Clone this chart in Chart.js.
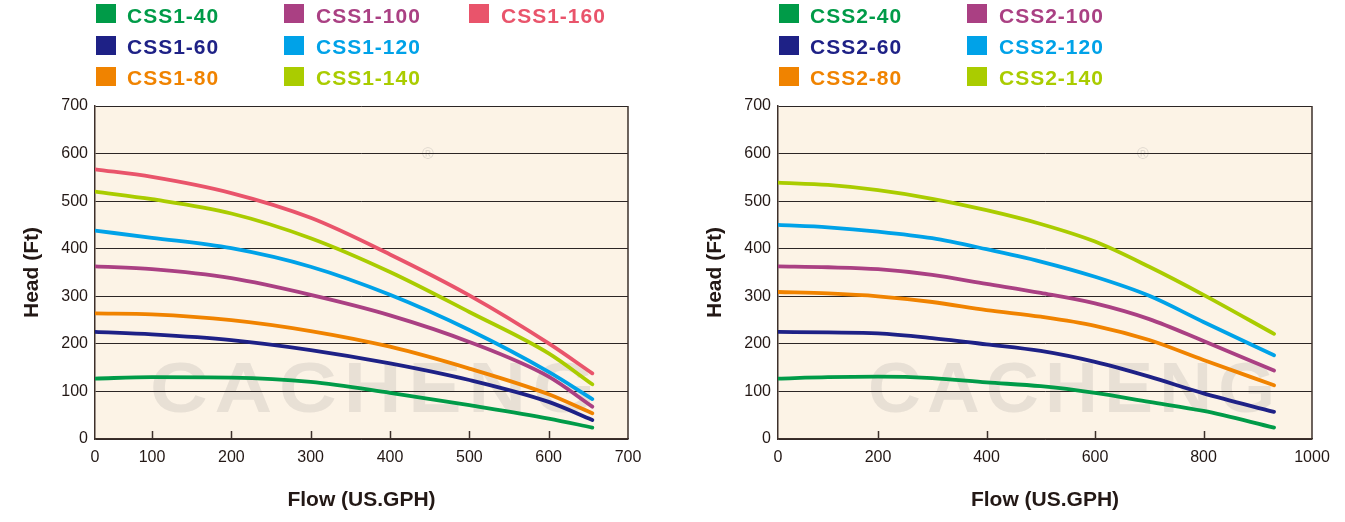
<!DOCTYPE html>
<html>
<head>
<meta charset="utf-8">
<script src="https://cdn.jsdelivr.net/npm/chart.js@4/dist/chart.umd.min.js"></script>
<style>
  html, body { margin: 0; padding: 0; background: #ffffff; }
  body { width: 1345px; height: 522px; position: relative; overflow: hidden; font-family: "Liberation Sans", Arial, sans-serif; }
  .wrap { position: absolute; top: 0; height: 522px; }
  .sw { position: absolute; width: 20px; height: 19px; }
  .lt { position: absolute; font-weight: bold; font-size: 21px; line-height: 21px; letter-spacing: 1px; white-space: nowrap; }
</style>
</head>
<body>
<div class="wrap" style="left:0;width:672px;"><canvas id="c1" width="672" height="522"></canvas></div>
<div class="wrap" style="left:672px;width:673px;"><canvas id="c2" width="673" height="522"></canvas></div>
<div id="legend"></div>
<script>
// ---------------- DATA ----------------
const flowTicks1 = [0, 100, 200, 300, 400, 500, 600, 700];
const flowTicks2 = [0, 200, 400, 600, 800, 1000];
const headTicks = [0, 100, 200, 300, 400, 500, 600, 700];

const flow1 = [0, 100, 200, 300, 400, 500, 600, 655];
const css1_40  = [127, 130, 129, 120, 97, 71, 43, 24];
const css1_60  = [225, 220, 208, 187, 159, 124, 78, 40];
const css1_80  = [264, 262, 250, 227, 194, 148, 94, 54];
const css1_100 = [363, 357, 338, 303, 260, 204, 131, 68];
const css1_120 = [438, 423, 401, 362, 303, 229, 141, 84];
const css1_140 = [520, 504, 474, 422, 351, 267, 180, 115];
const css1_160 = [567, 551, 517, 465, 388, 302, 201, 138];

const flow2 = [0, 100, 200, 300, 400, 500, 600, 700, 800, 930];
const css2_40  = [127, 130, 131, 128, 119, 111, 97, 78, 59, 24];
const css2_60  = [225, 224, 222, 212, 199, 185, 162, 131, 96, 57];
const css2_80  = [309, 306, 300, 288, 271, 257, 238, 208, 166, 113];
const css2_100 = [363, 361, 357, 345, 326, 307, 285, 252, 206, 144];
const css2_120 = [450, 445, 436, 422, 399, 373, 341, 301, 246, 176];
const css2_140 = [539, 534, 523, 505, 481, 452, 415, 362, 303, 221];

const names1 = ['CSS1-40', 'CSS1-60', 'CSS1-80', 'CSS1-100', 'CSS1-120', 'CSS1-140', 'CSS1-160'];
const names2 = ['CSS2-40', 'CSS2-60', 'CSS2-80', 'CSS2-100', 'CSS2-120', 'CSS2-140'];
const colors = ['#009B48', '#1E2186', '#F08300', '#AA4083', '#00A2E8', '#AACC00', '#E9546B'];

// ---------------- STYLE ----------------
const FONT = '"Liberation Sans", Arial, Helvetica, sans-serif';
const TEXT = '#231815';
const AXIS = '#3d302b';

// Axis with a compressed first interval (as in the printed chart)
function makeWarpScale(id, firstVal, firstFrac) {
  class WarpScale extends Chart.LinearScale {
    getPixelForValue(value) {
      const max = this.max;
      let f;
      if (value <= firstVal) f = (value / firstVal) * firstFrac;
      else f = firstFrac + (value - firstVal) / (max - firstVal) * (1 - firstFrac);
      return this.getPixelForDecimal(f);
    }
    getValueForPixel(pixel) {
      const f = this.getDecimalForPixel(pixel);
      if (f <= firstFrac) return f / firstFrac * firstVal;
      return firstVal + (f - firstFrac) / (1 - firstFrac) * (this.max - firstVal);
    }
  }
  WarpScale.id = id;
  WarpScale.defaults = Chart.LinearScale.defaults;
  Chart.register(WarpScale);
}
makeWarpScale('warp1', 100, 57 / 533);
makeWarpScale('warp2', 200, 100 / 534);

const framePlugin = {
  id: 'frame',
  beforeDraw(chart, args, opts) {
    const { ctx, chartArea: a } = chart;
    ctx.save();
    ctx.fillStyle = '#FCF3E6';
    ctx.fillRect(a.left, a.top, a.right - a.left, a.bottom - a.top);
    // watermark
    const w = a.right - a.left;
    const x0 = a.left + w * opts.wmFrom, x1 = a.left + w * opts.wmTo;
    const txt = 'CACHENG';
    ctx.fillStyle = 'rgba(190,185,180,0.33)';
    ctx.font = 'bold 70px ' + FONT;
    ctx.textBaseline = 'alphabetic';
    ctx.textAlign = 'left';
    ctx.letterSpacing = '6px';
    const natural = ctx.measureText(txt).width - 6;
    const sx = (x1 - x0) / natural;
    ctx.translate(x0, chart.scales.y.getPixelForValue(56));
    ctx.scale(sx, 1);
    ctx.fillText(txt, 0, 0);
    ctx.setTransform(1, 0, 0, 1, 0, 0);
    ctx.letterSpacing = '0px';
    ctx.fillStyle = 'rgba(190,185,180,0.5)';
    ctx.font = '16px ' + FONT;
    ctx.fillText('®', a.left + w * opts.regAt, chart.scales.y.getPixelForValue(588));
    ctx.restore();
  },
  afterDraw(chart) {
    const { ctx, chartArea: a } = chart;
    const xs = chart.scales.x;
    ctx.save();
    ctx.strokeStyle = AXIS;
    ctx.lineWidth = 1.5;
    xs.ticks.forEach((t, i) => {
      if (i === 0 || i === xs.ticks.length - 1) return;
      const px = Math.round(xs.getPixelForTick(i)) + 0.5;
      ctx.beginPath();
      ctx.moveTo(px, a.bottom);
      ctx.lineTo(px, a.bottom - 8);
      ctx.stroke();
    });
    ctx.beginPath();
    ctx.moveTo(a.right, a.top);
    ctx.lineTo(a.right, a.bottom);
    ctx.stroke();
    ctx.restore();
  }
};

function buildDatasets(flow, series, names) {
  return series.map((vals, i) => ({
    label: names[i],
    data: flow.map((f, j) => ({ x: f, y: vals[j] })),
    borderColor: colors[i],
    backgroundColor: colors[i],
    borderWidth: 3.8,
    borderCapStyle: 'round',
    borderJoinStyle: 'round',
    pointRadius: 0,
    cubicInterpolationMode: 'monotone',
    fill: false
  }));
}

function makeChart(canvasId, cfg) {
  return new Chart(document.getElementById(canvasId), {
    type: 'line',
    data: { datasets: buildDatasets(cfg.flow, cfg.series, cfg.names) },
    options: {
      responsive: false,
      animation: false,
      layout: { padding: { left: 0, right: cfg.padRight, top: 106, bottom: 0 } },
      plugins: {
        legend: { display: false },
        tooltip: { enabled: false },
        frame: cfg.wm
      },
      scales: {
        x: {
          type: cfg.xType,
          min: 0,
          max: cfg.xTicks[cfg.xTicks.length - 1],
          afterBuildTicks: (s) => { s.ticks = cfg.xTicks.map(v => ({ value: v })); },
          afterFit: (s) => { s.height = 83; },
          grid: { display: true, drawOnChartArea: false, drawTicks: false },
          border: { display: true, color: AXIS, width: 1.5 },
          ticks: { color: TEXT, font: { family: FONT, size: 16 }, padding: 9, maxRotation: 0, autoSkip: false, callback: (v) => String(v) },
          title: { display: true, text: 'Flow (US.GPH)', color: TEXT, font: { family: FONT, size: 21, weight: 'bold' }, padding: { top: 0, bottom: 9 } }
        },
        y: {
          type: 'linear',
          min: 0, max: 700,
          afterBuildTicks: (s) => { s.ticks = headTicks.map(v => ({ value: v })); },
          afterFit: (s) => { s.width = cfg.yWidth; },
          grid: { color: '#2b2524', lineWidth: 1, drawTicks: false },
          border: { display: true, color: AXIS, width: 1.5 },
          ticks: { color: TEXT, font: { family: FONT, size: 16 }, padding: 7, callback: (v) => String(v) },
          title: { display: true, text: 'Head (Ft)', color: TEXT, font: { family: FONT, size: 21, weight: 'bold' }, padding: { top: cfg.yTitlePad, bottom: 0 } }
        }
      }
    },
    plugins: [framePlugin]
  });
}

makeChart('c1', {
  flow: flow1,
  series: [css1_40, css1_60, css1_80, css1_100, css1_120, css1_140, css1_160],
  names: names1,
  xType: 'warp1',
  xTicks: flowTicks1,
  padRight: 44,
  yWidth: 95,
  yTitlePad: 20,
  wm: { wmFrom: 55 / 533, wmTo: 500 / 533, regAt: 327 / 533 }
});

makeChart('c2', {
  flow: flow2,
  series: [css2_40, css2_60, css2_80, css2_100, css2_120, css2_140],
  names: names2,
  xType: 'warp2',
  xTicks: flowTicks2,
  padRight: 33,
  yWidth: 106,
  yTitlePad: 31,
  wm: { wmFrom: 90 / 534, wmTo: 497 / 534, regAt: 359 / 534 }
});

// ---------------- LEGENDS (HTML) ----------------
const legend = document.getElementById('legend');
function addLegend(names, cols) {
  const rowsTop = [4, 36, 67];
  const textTop = [4.5, 35.5, 66.5];
  names.forEach((n, i) => {
    const col = Math.floor(i / 3), row = i % 3;
    const sw = document.createElement('div');
    sw.className = 'sw';
    sw.style.left = cols[col][0] + 'px';
    sw.style.top = rowsTop[row] + 'px';
    sw.style.background = colors[i];
    legend.appendChild(sw);
    const t = document.createElement('div');
    t.className = 'lt';
    t.style.left = cols[col][1] + 'px';
    t.style.top = textTop[row] + 'px';
    t.style.color = colors[i];
    t.textContent = n;
    legend.appendChild(t);
  });
}
addLegend(names1, [[96, 127], [284, 316], [469, 501]]);
addLegend(names2, [[779, 810], [967, 999]]);
</script>
</body>
</html>
